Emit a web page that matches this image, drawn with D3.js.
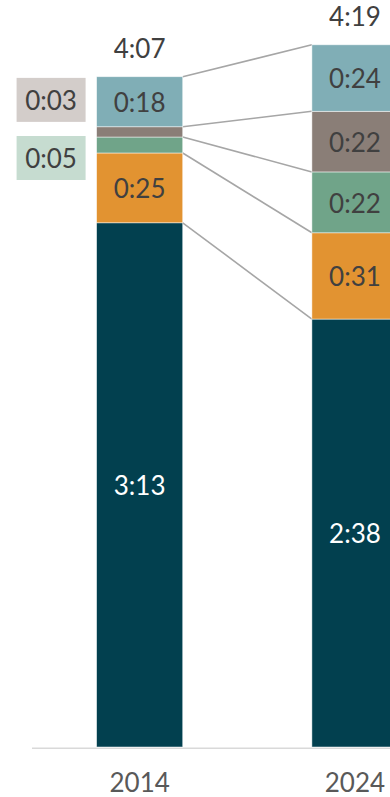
<!DOCTYPE html>
<html>
<head>
<meta charset="utf-8">
<script src="https://cdn.jsdelivr.net/npm/d3@7"></script>
<style>
  html, body { margin: 0; padding: 0; background: #fff; }
  svg { display: block; }
</style>
</head>
<body>
<svg id="chart" width="390" height="797"></svg>
<script>
// Time per day, in minutes, for each year; stacked bottom to top.
const years = ["2014", "2024"];
const seriesKeys = ["navy", "orange", "green", "taupe", "teal"];
const navyValues   = [193.8, 158.2];
const orangeValues = [25.8, 31.9];
const greenValues  = [5.9, 22.5];
const taupeValues  = [3.8, 22.4];
const tealValues   = [18.5, 24.6];

const seriesColors = {
  navy: "#02404f", orange: "#e29331", green: "#70a489", taupe: "#8a7e77", teal: "#80aeb6"
};
const calloutColors = { taupe: "#d3cdca", green: "#c6dcd0" };
// vertical shift of side callouts relative to their segment centre
const calloutShift = { taupe: -32, green: 13 };

const rows = years.map((y, i) => ({
  year: y,
  navy: navyValues[i], orange: orangeValues[i], green: greenValues[i],
  taupe: taupeValues[i], teal: tealValues[i]
}));

const fmt = m => Math.floor(m / 60) + ":" + String(Math.floor(m % 60)).padStart(2, "0");

const svg = d3.select("#chart");
const font = "Lato, 'Open Sans', sans-serif";
const fs = 26;

const x = d3.scaleBand().domain(years).range([32, 462.6]).paddingInner(0.6).paddingOuter(0.3);
const y = d3.scaleLinear().domain([0, 270]).range([747, 747 - 270 * 2.705]);

const stack = d3.stack().keys(seriesKeys)(rows);

// connectors joining each segment's upper edge across the two bars
const conn = svg.append("g");
stack.forEach(layer => {
  conn.append("line")
    .attr("x1", x(years[0]) + x.bandwidth())
    .attr("y1", y(layer[0][1]))
    .attr("x2", x(years[1]))
    .attr("y2", y(layer[1][1]))
    .attr("stroke", "#a6a6a6")
    .attr("stroke-width", 1.6);
});

// axis baseline
svg.append("line")
  .attr("x1", x.range()[0]).attr("x2", x.range()[1])
  .attr("y1", y(0) + 1.3).attr("y2", y(0) + 1.3)
  .attr("stroke", "#d9d9d9").attr("stroke-width", 1.5);

// bars
const layers = svg.append("g").selectAll("g").data(stack).join("g")
  .attr("fill", d => seriesColors[d.key]);
layers.selectAll("rect").data(d => d).join("rect")
  .attr("x", d => x(d.data.year))
  .attr("width", x.bandwidth())
  .attr("y", d => y(d[1]))
  .attr("height", d => y(d[0]) - y(d[1]))
  .attr("stroke", "#ffffff").attr("stroke-opacity", 0.6).attr("stroke-width", 0.8);

// side callout boxes sit beneath the label layer
const boxes = svg.append("g");
const labels = svg.append("g").attr("font-family", font).attr("font-size", fs)
  .attr("text-anchor", "middle");

stack.forEach(layer => {
  layer.forEach(d => {
    const v = d[1] - d[0];
    const h = y(d[0]) - y(d[1]);
    const cy = (y(d[0]) + y(d[1])) / 2;
    if (h >= 30) {
      labels.append("text")
        .attr("x", x(d.data.year) + x.bandwidth() / 2)
        .attr("y", cy + fs * 0.4)
        .attr("fill", layer.key === "navy" ? "#ffffff" : "#404040")
        .text(fmt(v));
    } else {
      const by = cy + calloutShift[layer.key];
      const bw = 69, bh = 44;
      const bx = x(d.data.year) - 11 - bw;
      boxes.append("rect")
        .attr("x", bx).attr("y", by - bh / 2)
        .attr("width", bw).attr("height", bh)
        .attr("fill", calloutColors[layer.key]);
      labels.append("text")
        .attr("x", bx + bw / 2)
        .attr("y", by + fs * 0.4)
        .attr("fill", "#404040")
        .text(fmt(v));
    }
  });
});

// totals above bars
const last = stack[stack.length - 1];
last.forEach(d => {
  labels.append("text")
    .attr("x", x(d.data.year) + x.bandwidth() / 2)
    .attr("y", y(d[1]) - 19)
    .attr("fill", "#404040")
    .text(fmt(d[1]));
});

// category labels
years.forEach(yr => {
  labels.append("text")
    .attr("x", x(yr) + x.bandwidth() / 2)
    .attr("y", 792)
    .attr("fill", "#595959")
    .text(yr);
});
</script>
</body>
</html>
